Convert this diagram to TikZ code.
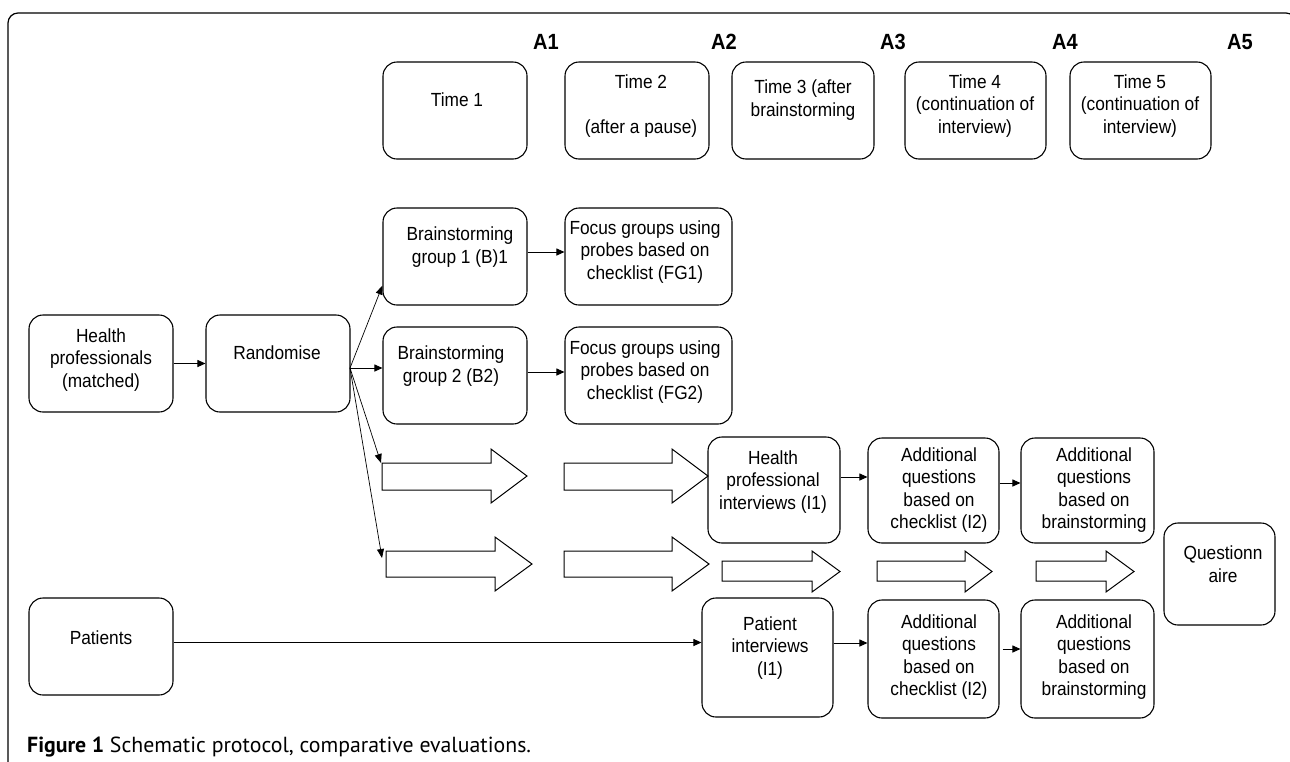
\documentclass[tikz,border=0pt]{standalone}
\usepackage{fontspec}
\setmainfont{Liberation Sans}
\newfontfamily\diag[FakeStretch=0.91]{Liberation Sans}
\newfontfamily\capfont{PT Sans}
\usetikzlibrary{arrows.meta,fit}
\newcommand\barrow[7]{\draw[blk] (#1,#4) -- (#2,#4) -- (#2,#6) -- (#3,{(#6+#7)/2}) -- (#2,#7) -- (#2,#5) -- (#1,#5) -- cycle;}
\begin{document}
\begin{tikzpicture}[x=1pt,y=-1pt,
  box/.style={draw, rounded corners=14pt, line width=1.1pt, inner sep=0pt},
  txt/.style={font=\diag\fontsize{19}{22.5}\selectfont, align=center, inner sep=0pt},
  alab/.style={font=\diag\bfseries\fontsize{22}{24}\selectfont, inner sep=0pt},
  blk/.style={draw, line width=1pt, line join=miter},
  conn/.style={line width=1pt, -{Triangle[length=8pt,width=7pt]}},
  fanc/.style={line width=0.7pt, -{Triangle[length=9pt,width=7pt]}}]
\useasboundingbox (0,0) rectangle (1290,761);
% frame
\draw[line width=1.2pt, rounded corners=10pt] (8,775) -- (8,13) -- (1296,13) -- (1296,775);
% A labels
\node[alab] (A1) at (546,42) {A1};
\node[alab] (A2) at (724,42) {A2};
\node[alab] (A3) at (893,42) {A3};
\node[alab] (A4) at (1065,42) {A4};
\node[alab] (A5) at (1240,42) {A5};
% time boxes
\node[box, fit={(383,62) (527,159)}] (T1) {};
\node[box, fit={(565,62) (709,159)}] (T2) {};
\node[box, fit={(732,62) (874,159)}] (T3) {};
\node[box, fit={(905,62) (1046,159)}] (T4) {};
\node[box, fit={(1070,62) (1211,159)}] (T5) {};
\node[txt] (T1t) at (457,100) {Time 1};
\node[txt] (T2t) at (641,106) {Time 2\\[22.5pt](after a pause)};
\node[txt] (T3t) at (803,100) {Time 3 (after\\brainstorming};
\node[txt] (T4t) at (975,106) {Time 4\\(continuation of\\interview)};
\node[txt] (T5t) at (1140,106) {Time 5\\(continuation of\\interview)};
% left column
\node[box, fit={(29,315) (173,412)}] (HPm) {};
\node[txt] (HPmt) at (101,360) {Health\\professionals\\(matched)};
\node[box, fit={(206,315) (350,412)}] (Rand) {};
\node[txt] (Randt) at (277,353) {Randomise};
\node[box, fit={(29,598) (173,695)}] (Pat) {};
\node[txt] (Patt) at (101,638) {Patients};
% brainstorming / focus groups
\node[box, fit={(383,208) (527,305)}] (BG1) {};
\node[txt] (BG1t) at (460,247) {Brainstorming\\group 1 (B)1};
\node[box, fit={(565,208) (732,305)}] (FG1) {};
\node[txt] (FG1t) at (645,252) {Focus groups using\\probes based on\\checklist (FG1)};
\node[box, fit={(383,327) (527,424)}] (BG2) {};
\node[txt] (BG2t) at (451,366) {Brainstorming\\group 2 (B2)};
\node[box, fit={(565,327) (732,424)}] (FG2) {};
\node[txt] (FG2t) at (645,372) {Focus groups using\\probes based on\\checklist (FG2)};
% interviews
\node[box, fit={(708,437) (840,543)}] (HPI) {};
\node[txt] (HPIt) at (773,482) {Health\\professional\\interviews (I1)};
\node[box, fit={(868,438) (999,543)}] (AQ1) {};
\node[txt] (AQ1t) at (939,490) {Additional\\questions\\based on\\checklist (I2)};
\node[box, fit={(1021,438) (1154,543)}] (AB1) {};
\node[txt] (AB1t) at (1094,490) {Additional\\questions\\based on\\brainstorming};
\node[box, fit={(1164,523) (1275,625)}] (Q) {};
\node[txt] (Qt) at (1223,564) {Questionn\\aire};
\node[box, fit={(702,598) (833,717)}] (PI) {};
\node[txt] (PIt) at (770,648) {Patient\\interviews\\(I1)};
\node[box, fit={(868,600) (999,718)}] (AQ2) {};
\node[txt] (AQ2t) at (939,657) {Additional\\questions\\based on\\checklist (I2)};
\node[box, fit={(1021,600) (1154,718)}] (AB2) {};
\node[txt] (AB2t) at (1094,657) {Additional\\questions\\based on\\brainstorming};
% block arrows
\barrow{382}{491}{527}{463}{490}{449}{503}
\barrow{564}{672}{708}{463}{490}{449}{503}
\barrow{386}{495}{532}{551}{577}{537}{591}
\barrow{564}{672}{709}{551}{577}{537}{591}
\barrow{722}{812}{840}{561}{581}{551}{592}
\barrow{877}{965}{992}{561}{581}{551}{592}
\barrow{1036}{1106}{1134}{561}{581}{551}{592}
% connectors
\coordinate (fan) at (350,368);
\coordinate (r1) at (381,463);
\coordinate (r2) at (382,558);
\draw[conn] (HPm.east) -- (Rand.west);
\draw[fanc] (fan) -- ([yshift=20pt]BG1.south west);
\draw[conn] (fan) -- (fan -| BG2.west);
\draw[fanc] (fan) -- (r1);
\draw[fanc] (fan) -- (r2);
\draw[conn] (BG1.east |- FG1t) -- (FG1t -| FG1.west);
\draw[conn] (BG2.east |- FG2t) -- (FG2t -| FG2.west);
\draw[conn] ([yshift=4pt]Pat.east) -- ([yshift=4pt]Pat.east -| PI.west);
\draw[conn] ([yshift=13pt]HPI.east) -- ([yshift=13pt]HPI.east -| AQ1.west);
\draw[conn] ([yshift=7.5pt]AQ1.east) -- ([yshift=7.5pt]AQ1.east -| AB1.west);
\draw[conn] ([yshift=14.5pt]PI.east) -- ([yshift=14.5pt]PI.east -| AQ2.west);
\draw[conn] ([yshift=10pt,xshift=3pt]AQ2.east) -- ([yshift=10pt]AQ2.east -| AB2.west);
% caption
\node[anchor=base west, inner sep=0pt, font=\capfont\fontsize{21.8}{24}\selectfont] (cap) at (27,752) {\textbf{Figure 1} Schematic protocol, comparative evaluations.};
\end{tikzpicture}
\end{document}
